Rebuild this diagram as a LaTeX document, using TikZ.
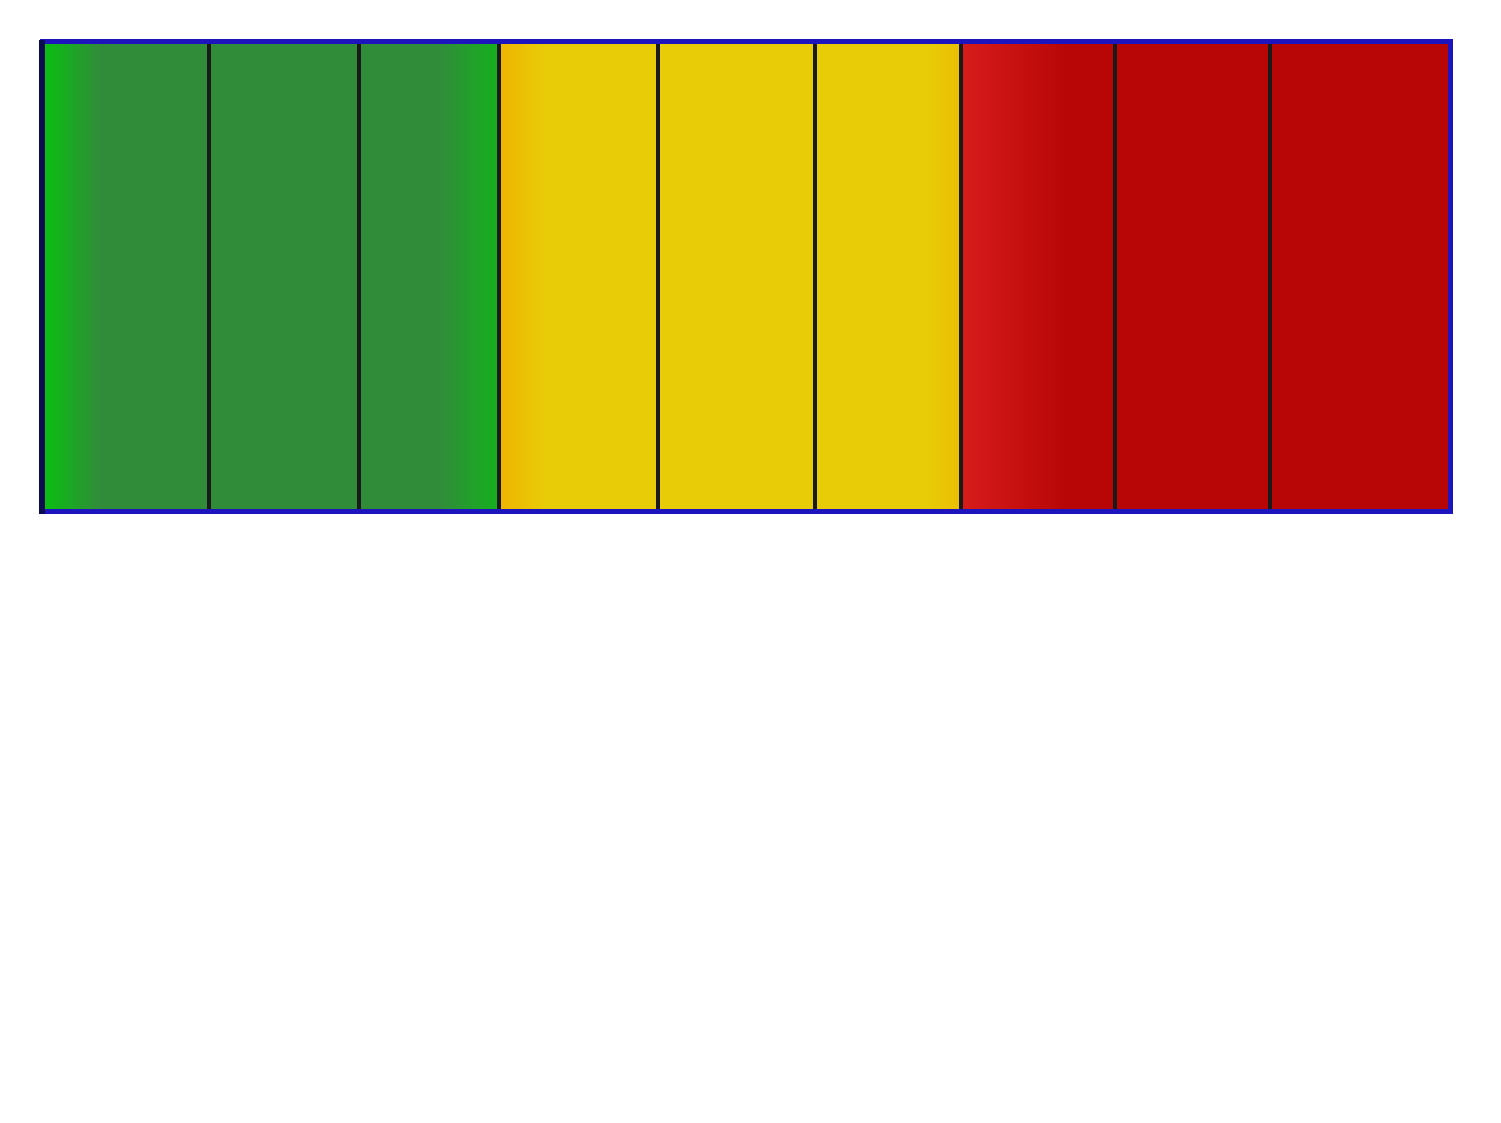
\documentclass[tikz,border=0pt]{standalone}
\usepackage{tikz}
\definecolor{gdark}{RGB}{49,140,58}
\definecolor{gbright}{RGB}{8,192,16}
\definecolor{ymain}{RGB}{232,204,8}
\definecolor{yorange}{RGB}{238,180,0}
\definecolor{rmain}{RGB}{184,6,6}
\definecolor{rbright}{RGB}{216,28,28}
\definecolor{frameblue}{RGB}{30,20,190}
\definecolor{framenavy}{RGB}{12,12,80}
\definecolor{divider}{RGB}{26,26,26}
\tikzset{
  frameline/.style={draw=frameblue, line width=2.5pt},
  leftline/.style={draw=framenavy, line width=3pt},
  dividerline/.style={draw=divider, line width=2.2pt},
}
\begin{document}
\begin{tikzpicture}[x=0.5pt,y=-0.5pt]
\useasboundingbox[fill=white] (0,0) rectangle (1501,1123);
% sections
\fill[gdark] (42,42) rectangle (499,512);
\shade[left color=gbright, right color=gdark] (42,42) rectangle (100,512);
\shade[left color=gdark, right color=gbright!70!gdark] (440,42) rectangle (499,512);
\fill[ymain] (499,42) rectangle (961,512);
\shade[left color=yorange, right color=ymain] (499,42) rectangle (545,512);
\shade[left color=ymain, right color=yorange!60!ymain] (925,42) rectangle (961,512);
\fill[rmain] (961,42) rectangle (1450,512);
\shade[left color=rbright, right color=rmain] (961,42) rectangle (1065,512);
% dividers
\foreach \xx in {209,359,499,658,815,961,1115,1270}
  \draw[dividerline] (\xx,42) -- (\xx,512);
% frame
\draw[frameline] (42,42) rectangle (1450,512);
\draw[leftline] (42,40) -- (42,514);
\end{tikzpicture}
\end{document}
